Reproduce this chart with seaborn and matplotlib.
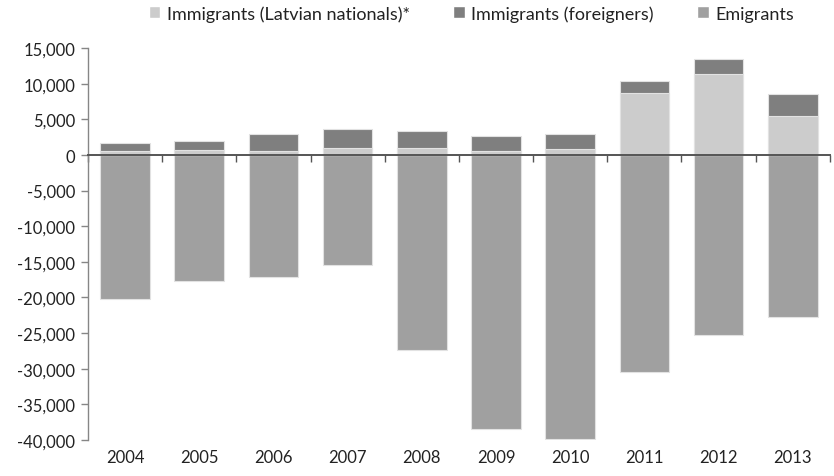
import matplotlib.pyplot as plt
import matplotlib.ticker as mticker
from matplotlib.patches import Patch
import matplotlib.transforms as mtransforms
import pandas as pd
import seaborn as sns

# Data
years = ['2004', '2005', '2006', '2007', '2008', '2009', '2010', '2011', '2012', '2013']
latvian = [500, 700, 600, 1000, 1000, 600, 800, 8700, 11400, 5500]
foreign = [1200, 1200, 2300, 2600, 2400, 2100, 2100, 1700, 2100, 3000]
emigrants = [-20250, -17650, -17100, -15500, -27300, -38400, -39900, -30400, -25300, -22700]

df = pd.DataFrame({'year': years, 'latvian': latvian, 'foreign': foreign,
                   'emigrants': emigrants})
df['total_imm'] = df['latvian'] + df['foreign']

c_lv = '#cccccc'
c_fr = '#7f7f7f'
c_em = '#a0a0a0'
edge = '#e2e2e2'

sns.set_style('white')
plt.rcParams['font.family'] = ['Lato', 'DejaVu Sans']

fig = plt.figure(figsize=(8.34, 4.77), dpi=100)
ax = fig.add_axes([0.1055, 0.0755, 0.8895, 0.8215])

w = 0.67
sns.barplot(data=df, x='year', y='emigrants', color=c_em, width=w,
            saturation=1, edgecolor=edge, linewidth=0.8, ax=ax)
sns.barplot(data=df, x='year', y='total_imm', color=c_fr, width=w,
            saturation=1, edgecolor=edge, linewidth=0.8, ax=ax)
sns.barplot(data=df, x='year', y='latvian', color=c_lv, width=w,
            saturation=1, edgecolor=edge, linewidth=0.8, ax=ax)

ax.set_ylim(-40000, 15000)
ax.set_xlim(-0.5, len(years) - 0.5)
ax.yaxis.set_major_locator(mticker.MultipleLocator(5000))
ax.yaxis.set_major_formatter(mticker.FuncFormatter(lambda v, p: f'{int(v):,}'))
ax.set_xlabel('')
ax.set_ylabel('')

# axes styling
for s in ['top', 'right']:
    ax.spines[s].set_visible(False)
ax.spines['left'].set_color('#868686')
ax.spines['left'].set_linewidth(1.0)
ax.spines['bottom'].set_position(('data', 0))
ax.spines['bottom'].set_color('#555555')
ax.spines['bottom'].set_linewidth(1.4)
ax.tick_params(axis='y', direction='out', length=5, width=1, color='#868686',
               labelsize=12, labelcolor='#222222', left=True, pad=4)
ax.set_xticks([i - 0.5 for i in range(len(years) + 1)])
ax.set_xticklabels([])
ax.tick_params(axis='x', direction='out', length=5, width=1, color='#555555',
               bottom=True)

# year labels at the bottom
trans = mtransforms.blended_transform_factory(ax.transData, ax.transAxes)
for i, y in enumerate(years):
    ax.text(i, -0.044, y, transform=trans, ha='center', va='center',
            fontsize=12, color='#222222')

handles = [Patch(facecolor=c_lv, label='Immigrants (Latvian nationals)*'),
           Patch(facecolor=c_fr, label='Immigrants (foreigners)'),
           Patch(facecolor=c_em, label='Emigrants')]
fig.legend(handles=handles, loc='center', bbox_to_anchor=(0.565, 0.97), ncol=3,
           frameon=False, fontsize=13, handlelength=0.65, handleheight=0.65,
           handletextpad=0.35, columnspacing=2.4, labelcolor='#222222')

fig.savefig('out.png', dpi=100)
